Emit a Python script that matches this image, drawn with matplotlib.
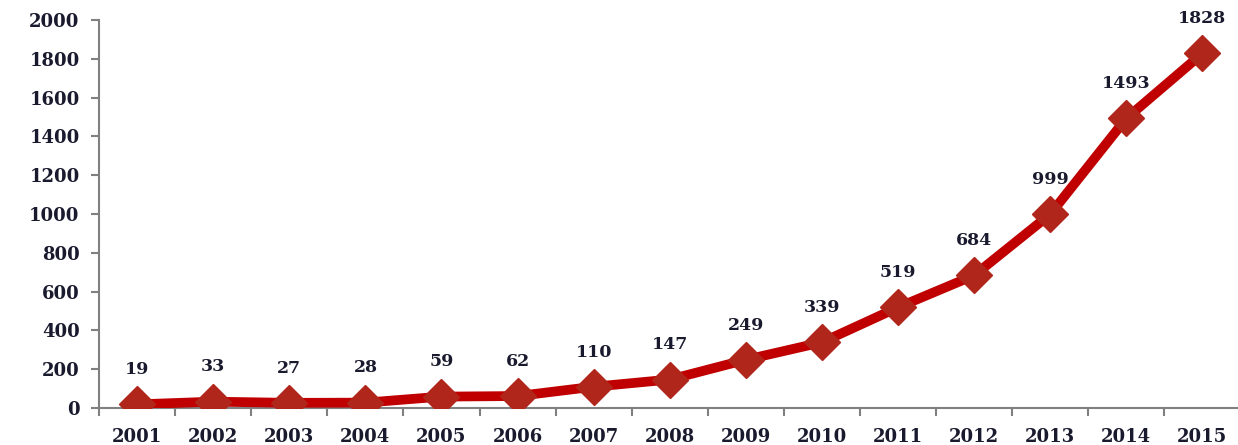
import numpy as np
from matplotlib import pyplot as plt

years = ['2001', '2002', '2003', '2004', '2005', '2006', '2007', '2008',
         '2009', '2010', '2011', '2012', '2013', '2014', '2015']
counts = [19, 33, 27, 28, 59, 62, 110, 147, 249, 339, 519, 684, 999, 1493, 1828]
y_ticks = list(range(0, 2001, 200))

plt.rcParams['font.family'] = 'DejaVu Serif'

fig = plt.figure(figsize=(12.38, 4.45), dpi=100)
ax = fig.add_axes([0.080, 0.083, 0.922, 0.872])

x = np.arange(1, len(years) + 1)
ax.plot(x, counts, color='#c00000', linewidth=7, solid_capstyle='round',
        marker='D', markersize=18, markerfacecolor='#b1261a',
        markeredgecolor='#b1261a', zorder=3)

for xi, v in zip(x, counts):
    ax.annotate(str(v), (xi, v), xytext=(0, 25), textcoords='offset points',
                ha='center', va='center', fontsize=12.5, color='#1a1a2e',
                fontweight='semibold')

ax.set_xlim(0.5, len(years) + 0.5)
ax.set_ylim(0, 2000)
ax.set_yticks(y_ticks)
ax.set_yticklabels([str(t) for t in y_ticks])

# category axis: ticks sit between the categories
ax.set_xticks(np.arange(0.5, len(years) + 1, 1.0))
ax.set_xticklabels([])
ax.set_xticks(x, minor=True)
ax.set_xticklabels(years, minor=True)
ax.tick_params(axis='x', which='minor', length=0, pad=14, labelsize=13,
               labelcolor='#1a1a2e')
ax.tick_params(axis='x', which='major', length=6, width=1.5, color='#808080')
ax.tick_params(axis='y', length=6, width=1.5, color='#808080', pad=8,
               labelsize=13, labelcolor='#1a1a2e')

for side in ['top', 'right']:
    ax.spines[side].set_visible(False)
for side in ['left', 'bottom']:
    ax.spines[side].set_color('#808080')
    ax.spines[side].set_linewidth(1.5)

for lbl in ax.get_yticklabels() + ax.get_xticklabels(minor=True):
    lbl.set_fontweight('bold')

fig.savefig('out.png', dpi=100)
